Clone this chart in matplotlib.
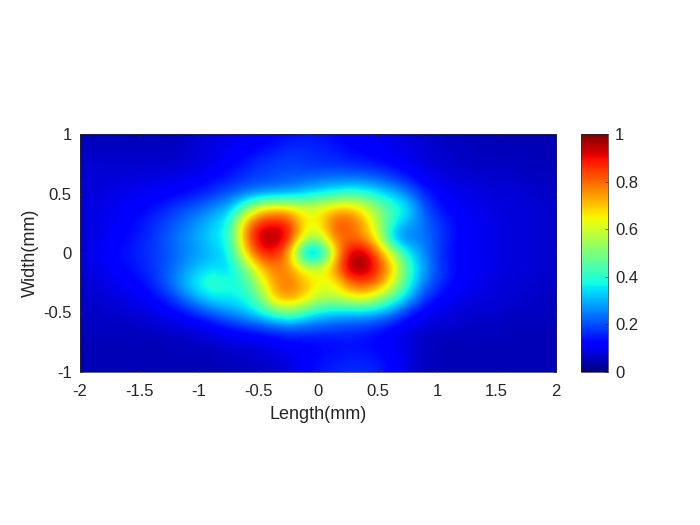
import numpy as np
import matplotlib
matplotlib.use('Agg')
import matplotlib.pyplot as plt

plt.rcParams['font.family'] = ['Liberation Sans', 'DejaVu Sans']

# positions on the sample (mm)
length_mm = np.arange(33) * 0.125 - 2
width_mm = 1 - np.arange(17) * 0.125

# normalised intensity, top row is width = 1
row_p100 = [.05,.05,.05,.05,.05,.05,.05,.06,.07,.08,.09,.10,.11,.12,.13,.14,.14,.13,.12,.11,.10,.09,.08,.07,.06,.06,.05,.05,.05,.05,.05,.05,.05]
row_p088 = [.06,.06,.06,.06,.06,.06,.06,.07,.08,.09,.10,.11,.13,.15,.17,.17,.16,.15,.13,.12,.11,.10,.09,.08,.07,.06,.06,.05,.05,.05,.05,.05,.05]
row_p075 = [.07,.07,.07,.07,.07,.07,.07,.07,.08,.10,.12,.15,.17,.18,.19,.18,.17,.17,.16,.15,.14,.12,.10,.08,.07,.07,.06,.06,.06,.06,.05,.05,.05]
row_p062 = [.08,.08,.08,.08,.08,.09,.09,.10,.11,.13,.15,.17,.19,.20,.21,.22,.23,.24,.24,.24,.22,.19,.15,.11,.09,.08,.08,.07,.07,.07,.06,.06,.06]
row_p050 = [.08,.08,.09,.10,.10,.11,.12,.13,.15,.18,.21,.24,.26,.27,.29,.32,.36,.38,.42,.40,.36,.32,.25,.17,.12,.10,.09,.09,.08,.08,.07,.07,.06]
row_p038 = [.08,.09,.10,.11,.12,.14,.17,.20,.23,.27,.31,.46,.64,.70,.68,.62,.64,.70,.72,.64,.52,.42,.36,.22,.15,.12,.10,.09,.08,.08,.08,.07,.07]
row_p025 = [.08,.09,.10,.12,.14,.17,.20,.24,.28,.33,.38,.72,.88,.90,.88,.66,.64,.82,.83,.74,.56,.38,.30,.24,.18,.14,.11,.10,.09,.08,.08,.07,.07]
row_p012 = [.08,.09,.11,.13,.15,.18,.22,.26,.30,.35,.38,.74,.95,.98,.90,.62,.55,.78,.80,.76,.62,.27,.24,.25,.19,.14,.11,.10,.09,.08,.08,.07,.07]
row_00 = [.08,.10,.12,.14,.16,.18,.21,.25,.28,.31,.36,.66,.86,.90,.74,.26,.20,.62,.92,.97,.80,.58,.36,.27,.18,.13,.11,.10,.09,.08,.08,.07,.07]
row_m012 = [.08,.09,.11,.13,.15,.18,.22,.27,.32,.35,.32,.48,.68,.78,.76,.62,.60,.74,.96,1.0,.86,.70,.42,.30,.19,.14,.11,.10,.09,.08,.08,.07,.07]
row_m025 = [.07,.08,.09,.11,.13,.17,.23,.31,.38,.43,.38,.40,.58,.74,.80,.72,.65,.62,.80,.84,.80,.62,.40,.26,.18,.13,.11,.09,.08,.08,.07,.07,.06]
row_m038 = [.07,.07,.08,.09,.10,.13,.17,.24,.31,.36,.36,.38,.46,.72,.76,.70,.58,.58,.62,.66,.56,.44,.32,.19,.13,.10,.09,.08,.08,.07,.07,.06,.06]
row_m050 = [.06,.06,.07,.07,.08,.09,.11,.14,.18,.23,.27,.31,.37,.44,.50,.42,.36,.33,.32,.32,.30,.25,.16,.11,.09,.08,.07,.07,.07,.06,.06,.06,.05]
row_m062 = [.06,.06,.06,.06,.06,.07,.07,.08,.09,.11,.14,.16,.18,.20,.22,.21,.20,.19,.18,.17,.15,.12,.09,.08,.07,.07,.06,.06,.06,.05,.05,.05,.05]
row_m075 = [.05,.05,.05,.05,.05,.05,.05,.06,.06,.07,.08,.08,.09,.10,.12,.12,.13,.13,.14,.13,.12,.10,.08,.06,.05,.05,.05,.05,.05,.05,.05,.05,.05]
row_m088 = [.05,.05,.05,.05,.05,.05,.05,.05,.05,.05,.06,.06,.07,.08,.09,.11,.13,.14,.15,.15,.14,.12,.09,.06,.05,.05,.05,.05,.05,.05,.05,.05,.05]
row_m100 = [.05,.05,.05,.05,.05,.05,.05,.05,.05,.05,.05,.06,.06,.06,.08,.11,.15,.16,.17,.17,.16,.12,.08,.06,.05,.05,.05,.05,.05,.05,.05,.05,.05]

intensity = np.array([row_p100, row_p088, row_p075, row_p062, row_p050, row_p038,
                      row_p025, row_p012, row_00, row_m012, row_m025, row_m038,
                      row_m050, row_m062, row_m075, row_m088, row_m100])

x_ticks = [-2, -1.5, -1, -0.5, 0, 0.5, 1, 1.5, 2]
x_labels = ['-2', '-1.5', '-1', '-0.5', '0', '0.5', '1', '1.5', '2']
y_ticks = [-1, -0.5, 0, 0.5, 1]
y_labels = ['-1', '-0.5', '0', '0.5', '1']
cbar_ticks = [0, 0.2, 0.4, 0.6, 0.8, 1]
cbar_labels = ['0', '0.2', '0.4', '0.6', '0.8', '1']

text_col = '#262626'
fig = plt.figure(figsize=(7, 5.25), dpi=100)
ax = fig.add_axes([80/700, 1 - 372/525, 476/700, 238/525])
cax = fig.add_axes([581/700, 1 - 372/525, 27/700, 238/525])

# half a step of margin so the grid points sit on pixel centres
dx = 0.0625
img = ax.imshow(intensity, cmap='jet', vmin=0, vmax=1, aspect='auto', interpolation='bicubic',
                extent=[length_mm[0] - dx, length_mm[-1] + dx, width_mm[-1] - dx, width_mm[0] + dx])
ax.set_xlim(-2, 2)
ax.set_ylim(-1, 1)
ax.set_xticks(x_ticks, x_labels)
ax.set_yticks(y_ticks, y_labels)
ax.tick_params(direction='in', length=2.5, width=0.5, colors=text_col, labelsize=12, top=True, right=True)
ax.tick_params(axis='x', pad=9)
ax.tick_params(axis='y', pad=6)
ax.set_xlabel('Length(mm)', fontsize=13, color=text_col, labelpad=5)
ax.set_ylabel('Width(mm)', fontsize=13, color=text_col, labelpad=3)
for s in ax.spines.values():
    s.set_linewidth(0.5)
    s.set_color(text_col)

cb = fig.colorbar(img, cax=cax)
cb.set_ticks(cbar_ticks, labels=cbar_labels)
cb.ax.tick_params(direction='in', length=2.5, width=0.5, colors=text_col, labelsize=12, pad=5)
cb.outline.set_linewidth(0.5)
cb.outline.set_edgecolor(text_col)

fig.savefig('out.png', dpi=100)
